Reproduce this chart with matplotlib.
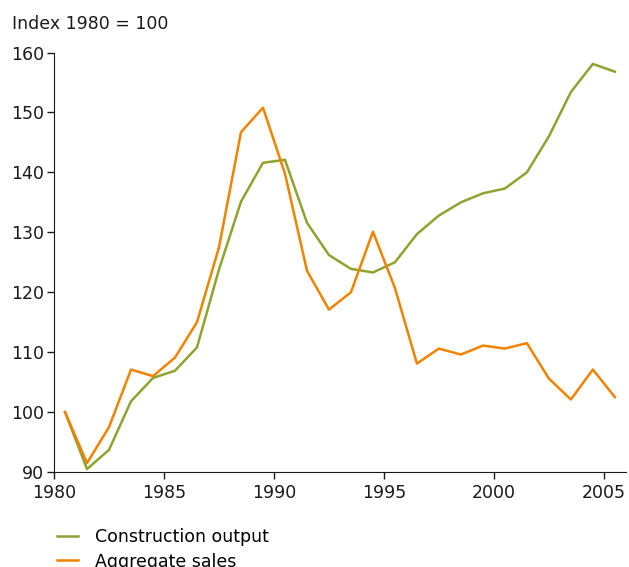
import numpy as np
import matplotlib
matplotlib.use("Agg")
import matplotlib.pyplot as plt

# index values, 1980 = 100 (plotted at mid-year)
years = np.arange(1980, 2006)
construction = [100.0, 90.5, 93.7, 101.8, 105.7, 106.9, 110.8, 123.8, 135.1, 141.6,
                142.1, 131.6, 126.2, 123.9, 123.3, 125.0, 129.7, 132.8, 135.0, 136.5,
                137.3, 140.0, 146.0, 153.4, 158.1, 156.8]
aggregates = [100.0, 91.5, 97.5, 107.1, 106.0, 109.1, 115.0, 127.5, 146.7, 150.8,
              139.8, 123.6, 117.1, 120.0, 130.1, 120.7, 108.1, 110.6, 109.6, 111.1,
              110.6, 111.5, 105.6, 102.1, 107.1, 102.5]
series_labels = ["Construction output", "Aggregate sales"]
colors = ["#8ea330", "#f08300"]
xticks = [1980, 1985, 1990, 1995, 2000, 2005]
yticks = [90, 100, 110, 120, 130, 140, 150, 160]

plt.rcParams["font.family"] = "DejaVu Sans"
fig = plt.figure(figsize=(6.29, 5.67), dpi=100)
ax = fig.add_axes([0.0859, 0.1675, 0.9091, 0.7399])

x = years + 0.5
ax.plot(x, construction, color=colors[0], lw=1.8, label=series_labels[0])
ax.plot(x, aggregates, color=colors[1], lw=1.8, label=series_labels[1])

ax.set_xlim(1980, 2006)
ax.set_ylim(90, 160)
ax.set_xticks(xticks)
ax.set_yticks(yticks)
ax.tick_params(axis="both", labelsize=12.5, length=5, width=1, colors="#1a1a1a")
ax.tick_params(axis="y", pad=2)
for s in ["top", "right"]:
    ax.spines[s].set_visible(False)
for s in ["left", "bottom"]:
    ax.spines[s].set_color("#1a1a1a")

fig.text(0.019, 0.957, "Index 1980 = 100", fontsize=12.5, color="#1a1a1a", va="center")

ax.legend(loc="upper left", bbox_to_anchor=(0.091, 0.068), bbox_transform=fig.transFigure,
          frameon=False, fontsize=12.5, handlelength=1.2, handletextpad=0.95,
          labelspacing=0.35, borderpad=0, borderaxespad=0)

fig.savefig("out.png", dpi=100)
